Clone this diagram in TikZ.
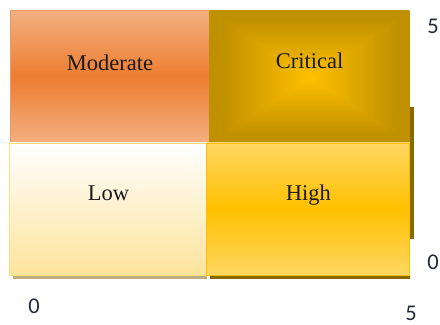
\documentclass[tikz,border=0pt]{standalone}
\usepackage{fontspec}
\setmainfont{Liberation Serif}
\newfontfamily\axisfont{Carlito}
\usetikzlibrary{positioning}
\pgfdeclarelayer{background}
\pgfsetlayers{background,main}

\definecolor{modlight}{HTML}{F3AF80}
\definecolor{moddark}{HTML}{ED7D31}
\definecolor{modborder}{HTML}{F09A60}
\definecolor{critborder}{HTML}{BF9000}
\definecolor{lowbottom}{HTML}{FDE39C}
\definecolor{lowborder}{HTML}{FFE07A}
\definecolor{highlight}{HTML}{FFD763}
\definecolor{highdark}{HTML}{FFC000}
\definecolor{tanshadow}{HTML}{BFAF80}
\definecolor{darkshadow}{HTML}{8A6800}
\definecolor{textdark}{HTML}{1A1A1A}
\definecolor{axisblue}{HTML}{222B3A}

% rectangular glow from the centre, FFC000 -> BF9000
\pgfdeclarefunctionalshading{critglow}{\pgfpoint{-50bp}{-50bp}}{\pgfpoint{50bp}{50bp}}{}{
	abs exch abs 2 copy lt {exch} if pop
	22 div dup 1 gt {pop 1} if
	dup -0.251 mul 1 add exch -0.188 mul 0.753 add 0
}

\begin{document}
\begin{tikzpicture}[
				cellnode/.style={rectangle, line width=0.6pt, minimum width=5cm, minimum height=3.3cm,
					inner sep=0pt, outer sep=0pt, text=textdark, font=\fontsize{16}{19}\selectfont,
					text height=0pt, text depth=4mm},
				axisnum/.style={inner sep=0pt, text=axisblue, font=\axisfont\fontsize{16}{19}\selectfont},
				]
				\useasboundingbox (0,0) rectangle (11,8.125);
				%Cells
				\node[cellnode, draw=modborder, top color=modlight, bottom color=modlight, middle color=moddark, text depth=3mm]
					(moderate) at (2.75,6.21) {Moderate};
				\node[cellnode, draw=critborder, shading=critglow, minimum width=4.99cm]
					(critical) at (7.74,6.2) {Critical};
				\node[cellnode, draw=lowborder, top color=white, bottom color=lowbottom, minimum width=4.95cm]
					(low) at (2.71,2.9) {Low};
				\node[cellnode, draw=highdark, top color=highlight, bottom color=highlight, middle color=highdark, minimum width=5.075cm]
					(high) at (7.71,2.9) {High};

				%Axis numbers
				\node[axisnum]      (ymax) 	at 	(10.825,7.475)  {5};
				\node[axisnum]      (ymin) 	at 	(10.825,1.575)  {0};
				\node[axisnum]      (xmin) 	at 	(0.85,0.475)    {0};
				\node[axisnum]      (xmax) 	at 	(10.275,0.3)    {5};

				\begin{pgfonlayer}{background}
				%Shadows
				\fill[tanshadow] ([xshift=0.85mm]low.south west) rectangle ([yshift=-1mm]low.south east);
				\fill[darkshadow] ([xshift=0.75mm]high.south west) rectangle ([yshift=-1mm]high.south east);
				\fill[darkshadow] ([yshift=9mm]critical.south east) rectangle ([xshift=1mm,yshift=9mm]high.south east);
				\end{pgfonlayer}
			\end{tikzpicture}
\end{document}
